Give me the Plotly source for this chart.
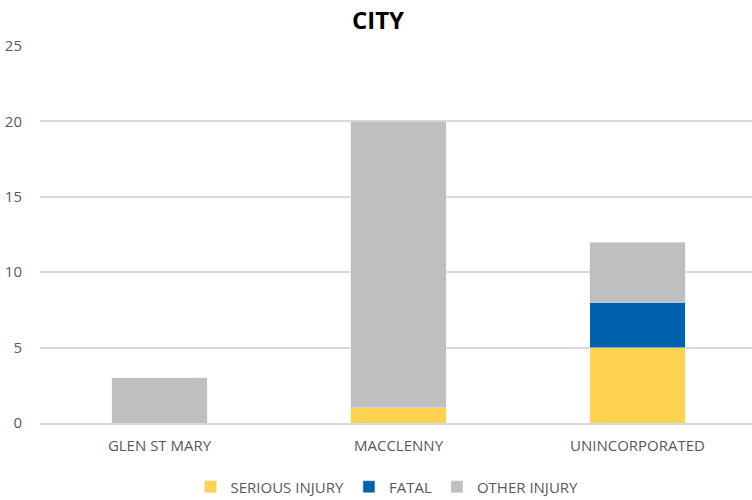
import plotly.graph_objects as go

categories = ["GLEN ST MARY", "MACCLENNY", "UNINCORPORATED"]
serious = [0, 1, 5]
fatal = [0, 0, 3]
other = [3, 19, 4]

font_family = "Open Sans, Liberation Sans, sans-serif"

W, H = 757, 500
L, T, B = 40, 46, 77
plot_h = H - T - B
plot_w = W - L

fig = go.Figure()
fig.add_trace(go.Bar(name="SERIOUS INJURY", x=categories, y=serious, marker_color="#FFD24F"))
fig.add_trace(go.Bar(name="FATAL", x=categories, y=fatal, marker_color="#0062AD"))
fig.add_trace(go.Bar(name="OTHER INJURY", x=categories, y=other, marker_color="#BFBFBF"))

fig.update_layout(
    barmode="stack",
    bargap=0.6,
    width=W, height=H,
    margin=dict(l=L, r=0, t=T, b=B, autoexpand=False),
    plot_bgcolor="white", paper_bgcolor="white",
    font=dict(family=font_family, size=15, color="#595959"),
    title=dict(text="<b>CITY</b>", x=378 / W, xref="container", xanchor="center",
               y=1 - 20.5 / H, yref="container", yanchor="middle",
               font=dict(size=24, color="#000000", family=font_family)),
    legend=dict(orientation="h", x=(387 - L) / plot_w, xanchor="center", y=-64 / plot_h, yanchor="middle",
                font=dict(size=15, color="#595959"), traceorder="normal",
                itemwidth=30),
    xaxis=dict(showgrid=False, showline=True, linecolor="#D9D9D9", linewidth=1.5,
               ticks="", ticklabelstandoff=8, tickfont=dict(size=15, color="#595959")),
    yaxis=dict(range=[0, 25], dtick=5, showgrid=True, gridcolor="#D9D9D9", gridwidth=1.5,
               zeroline=False, ticks="", ticklabelstandoff=17, tickfont=dict(size=15, color="#595959")),
)

fig.write_html("out.html", config={"displayModeBar": False},
               post_script="document.body.style.margin='0';document.body.style.overflow='hidden';")
